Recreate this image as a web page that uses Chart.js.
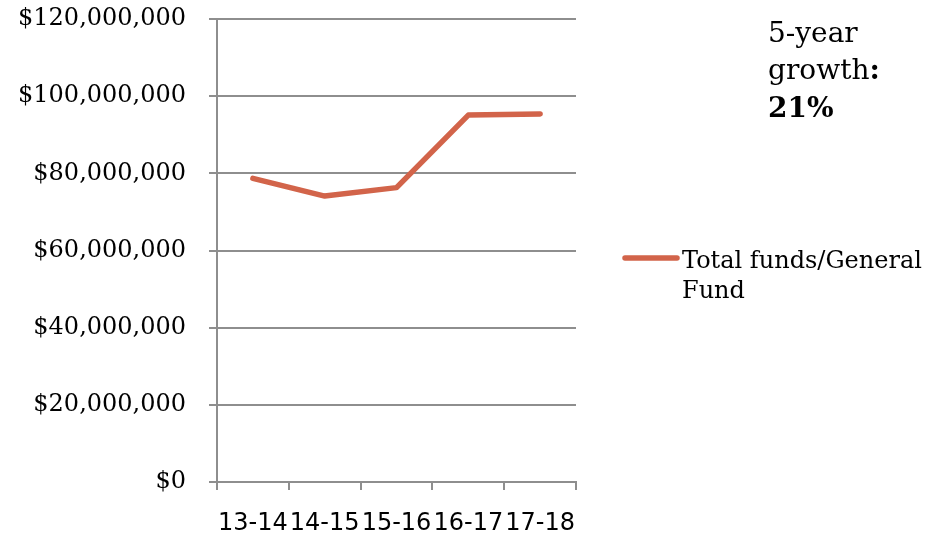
<!DOCTYPE html>
<html>
<head>
<meta charset="utf-8">
<script src="https://cdn.jsdelivr.net/npm/chart.js@4/dist/chart.umd.min.js"></script>
<style>
html,body{margin:0;padding:0;background:#fff;}
#wrap{width:940px;height:533px;position:relative;}
</style>
</head>
<body>
<div id="wrap"><canvas id="c" width="940" height="533"></canvas></div>
<script>
const categories = ['13-14', '14-15', '15-16', '16-17', '17-18'];
const seriesName = 'Total funds/General Fund';
const legendLines = ['Total funds/General', 'Fund'];
const fundValues = [78700000, 74100000, 76300000, 95100000, 95400000];
const noteLines = ['5-year', 'growth', '21%'];

const LINE_COLOR = '#d2644a';
const GRID_COLOR = '#8e8e8e';

const sidePlugin = {
  id: 'sideText',
  afterDraw(chart) {
    const ctx = chart.ctx;
    ctx.save();
    ctx.strokeStyle = LINE_COLOR;
    ctx.lineWidth = 5.5;
    ctx.lineCap = 'round';
    ctx.beginPath();
    ctx.moveTo(625, 258);
    ctx.lineTo(677, 258);
    ctx.stroke();
    ctx.fillStyle = '#000';
    ctx.font = '24px "DejaVu Serif"';
    ctx.textBaseline = 'alphabetic';
    ctx.textAlign = 'left';
    ctx.fillText(legendLines[0], 682, 268);
    ctx.fillText(legendLines[1], 682, 298);
    ctx.font = '28px "DejaVu Serif"';
    ctx.fillText(noteLines[0], 768, 42);
    ctx.fillText(noteLines[1], 768, 79);
    const w = ctx.measureText(noteLines[1]).width;
    ctx.font = 'bold 28px "DejaVu Serif"';
    ctx.fillText(':', 768 + w, 79);
    ctx.fillText(noteLines[2], 768, 117);
    ctx.restore();
  }
};

new Chart(document.getElementById('c'), {
  type: 'line',
  data: {
    labels: categories,
    datasets: [{
      label: seriesName,
      data: fundValues,
      borderColor: LINE_COLOR,
      backgroundColor: LINE_COLOR,
      borderWidth: 5.5,
      borderCapStyle: 'round',
      borderJoinStyle: 'round',
      pointRadius: 0,
      tension: 0,
      fill: false
    }]
  },
  options: {
    responsive: false,
    animation: false,
    devicePixelRatio: 1,
    layout: { padding: { left: 0, right: 364, top: 19, bottom: 0 } },
    plugins: { legend: { display: false }, tooltip: { enabled: false } },
    scales: {
      x: {
        offset: true,
        grid: { display: true, drawOnChartArea: false, drawTicks: true, tickLength: 8, color: GRID_COLOR, lineWidth: 2, offset: true },
        border: { display: true, color: GRID_COLOR, width: 2 },
        ticks: { color: '#000', font: { family: '"DejaVu Sans"', size: 24, lineHeight: 1 }, padding: 22, maxRotation: 0, autoSkip: false },
        afterFit(scale) { scale.height = 51; scale.paddingLeft = 0; scale.paddingRight = 0; }
      },
      y: {
        min: 0, max: 120000000,
        grid: { color: GRID_COLOR, lineWidth: 2, tickLength: 8, drawTicks: true },
        border: { display: true, color: GRID_COLOR, width: 2 },
        ticks: {
          stepSize: 20000000,
          color: '#000',
          padding: 23,
          font: { family: '"DejaVu Serif"', size: 24 },
          callback: v => '$' + Number(v).toLocaleString('en-US')
        },
        afterFit(scale) { scale.width = 217; scale.paddingTop = 0; scale.paddingBottom = 0; }
      }
    }
  },
  plugins: [sidePlugin]
});
</script>
</body>
</html>
